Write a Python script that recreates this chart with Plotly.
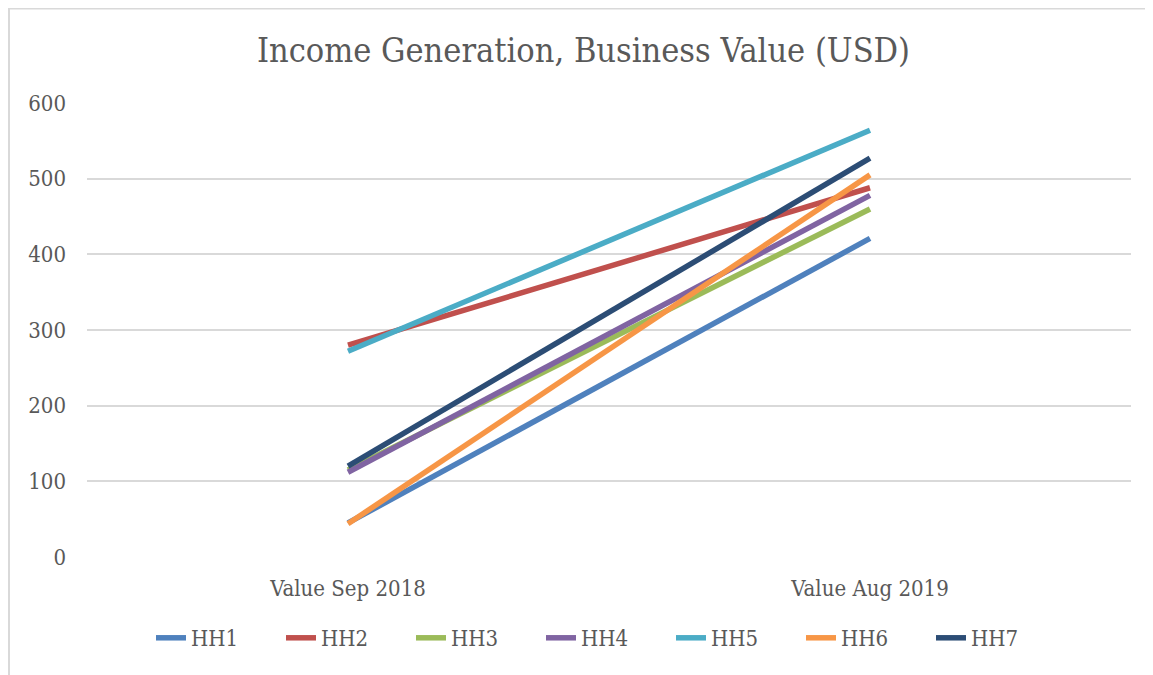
import plotly.graph_objects as go

categories = ["Value Sep 2018", "Value Aug 2019"]
series_names = ["HH1", "HH2", "HH3", "HH4", "HH5", "HH6", "HH7"]
hh1 = [45, 421]
hh2 = [280, 488]
hh3 = [115, 460]
hh4 = [112, 478]
hh5 = [272, 564]
hh6 = [44, 505]
hh7 = [120, 527]
values = [hh1, hh2, hh3, hh4, hh5, hh6, hh7]
colors = ["#4F81BD", "#C0504D", "#9BBB59", "#8064A2", "#4BACC6", "#F79646", "#2C4D75"]

FONT = "DejaVu Serif Condensed"
GRAY = "#595959"
W, H = 1145, 667
L, R, T, B = 79, 22, 95, 118
PW, PH = W - L - R, H - T - B

fig = go.Figure()
for name, vals, col in zip(series_names, values, colors):
    fig.add_trace(go.Scatter(x=categories, y=vals, name=name, mode="lines",
                             line=dict(color=col, width=5.5)))

fig.update_layout(
    width=W, height=H,
    margin=dict(l=L, r=R, t=T, b=B, autoexpand=False),
    paper_bgcolor="white", plot_bgcolor="white",
    title=dict(text="Income Generation, Business Value (USD)", x=575.5 / W, xref="container",
               xanchor="center", y=1 - 42 / H, yref="container", yanchor="middle",
               font=dict(family=FONT, size=34, color=GRAY)),
    font=dict(family=FONT, color=GRAY, size=22),
    showlegend=True,
    legend=dict(orientation="h", x=598 / W, xanchor="center", xref="container",
                y=1 - 630 / H, yref="container", yanchor="middle",
                font=dict(family=FONT, size=22, color=GRAY),
                entrywidth=85, entrywidthmode="pixels",
                tracegroupgap=0),
    xaxis=dict(type="category", range=[-0.5, 1.5], showgrid=False, zeroline=False,
               showline=False, ticks="", tickfont=dict(size=22, color=GRAY),
               ticklabelstandoff=16),
    yaxis=dict(range=[0, 600], dtick=100, showgrid=True, gridcolor="#D9D9D9",
               gridwidth=1.5, zeroline=False, showline=False, ticks="",
               tickfont=dict(size=22, color=GRAY), ticklabelstandoff=20),
)
# outer chart border (left and top)
fig.add_shape(type="line", xref="paper", yref="paper",
              x0=(1 - L) / PW, x1=(1 - L) / PW, y0=-B / PH, y1=(PH + T) / PH,
              line=dict(color="#D9D9D9", width=2))
fig.add_shape(type="line", xref="paper", yref="paper",
              x0=(1 - L) / PW, x1=(W - L) / PW, y0=(PH + T - 0.5) / PH, y1=(PH + T - 0.5) / PH,
              line=dict(color="#D9D9D9", width=2))

fig.write_html("out.html")
